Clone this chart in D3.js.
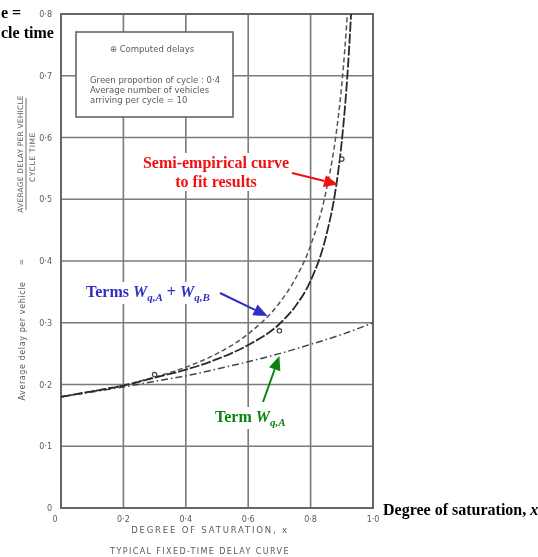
<!DOCTYPE html>
<html>
<head>
<meta charset="utf-8">
<script src="https://cdn.jsdelivr.net/npm/d3@7"></script>
<style>
  body { margin: 0; background: #fff; }
  svg { display: block; }
  .scan text { font-family: "DejaVu Sans", sans-serif; fill: #5a5a5a; }
  .note { font-family: "Liberation Serif", serif; font-weight: bold; font-size: 16px; }
</style>
</head>
<body>
<script>
// values
var xTicks = [0, 0.2, 0.4, 0.6, 0.8, 1.0];
var xTickLabels = ["0", "0·2", "0·4", "0·6", "0·8", "1·0"];
var yTicks = [0, 0.1, 0.2, 0.3, 0.4, 0.5, 0.6, 0.7, 0.8];
var yTickLabels = ["0", "0·1", "0·2", "0·3", "0·4", "0·5", "0·6", "0·7", "0·8"];

var termAX = [0, 0.1, 0.2, 0.3, 0.4, 0.5, 0.6, 0.7, 0.8, 0.9, 1.0];
var termA = [0.180, 0.188, 0.196, 0.205, 0.214, 0.225, 0.237, 0.250, 0.265, 0.281, 0.300];

var sumX = [0, 0.1, 0.2, 0.3, 0.4, 0.5, 0.6, 0.7, 0.75, 0.8, 0.85, 0.88, 0.9, 0.91, 0.92];
var sumAB = [0.180, 0.189, 0.199, 0.212, 0.228, 0.250, 0.282, 0.332, 0.370, 0.425, 0.514, 0.599, 0.686, 0.745, 0.816];

var semiX = [0, 0.1, 0.2, 0.3, 0.4, 0.5, 0.6, 0.7, 0.75, 0.8, 0.85, 0.88, 0.9, 0.92, 0.93];
var semi = [0.180, 0.189, 0.198, 0.211, 0.224, 0.241, 0.264, 0.298, 0.326, 0.368, 0.441, 0.515, 0.594, 0.716, 0.802];

var computedX = [0.3, 0.7, 0.9];
var computed = [0.216, 0.287, 0.565];

var W = 538, H = 557;
var x = d3.scaleLinear().domain([0, 1]).range([61, 373]);
var y = d3.scaleLinear().domain([0, 0.8]).range([508, 14]);

var svg = d3.select("body").append("svg").attr("width", W).attr("height", H);

var defs = svg.append("defs");
defs.append("filter").attr("id", "scanblur")
  .append("feGaussianBlur").attr("stdDeviation", 0.4);
defs.append("clipPath").attr("id", "plotclip")
  .append("rect").attr("x", x(0)).attr("y", y(0.8)).attr("width", x(1) - x(0)).attr("height", y(0) - y(0.8));

var scan = svg.append("g").attr("class", "scan").attr("filter", "url(#scanblur)");

// grid
scan.append("g").selectAll("line").data(xTicks).enter().append("line")
  .attr("x1", function(d){ return x(d); }).attr("x2", function(d){ return x(d); })
  .attr("y1", y(0)).attr("y2", y(0.8))
  .attr("stroke", "#7a7a7a").attr("stroke-width", 1.6);
scan.append("g").selectAll("line").data(yTicks).enter().append("line")
  .attr("x1", x(0)).attr("x2", x(1))
  .attr("y1", function(d){ return y(d); }).attr("y2", function(d){ return y(d); })
  .attr("stroke", "#7a7a7a").attr("stroke-width", 1.6);
scan.append("rect")
  .attr("x", x(0)).attr("y", y(0.8)).attr("width", x(1) - x(0)).attr("height", y(0) - y(0.8))
  .attr("fill", "none").attr("stroke", "#666").attr("stroke-width", 2);

// tick labels
scan.append("g").selectAll("text").data(xTicks).enter().append("text")
  .attr("x", function(d){ return x(d) - (d === 0 ? 6 : 0); })
  .attr("y", y(0) + 14)
  .attr("text-anchor", "middle").attr("font-size", 8)
  .text(function(d, i){ return xTickLabels[i]; });
scan.append("g").selectAll("text").data(yTicks).enter().append("text")
  .attr("x", x(0) - 9).attr("y", function(d){ return y(d) + 3; })
  .attr("text-anchor", "end").attr("font-size", 8)
  .text(function(d, i){ return yTickLabels[i]; });

// legend box (white, covers grid)
var lg = scan.append("g").attr("transform", "translate(76,32)");
lg.append("rect").attr("width", 157).attr("height", 85)
  .attr("fill", "#fff").attr("stroke", "#666").attr("stroke-width", 1.6);
lg.append("text").attr("x", 76).attr("y", 20).attr("text-anchor", "middle").attr("font-size", 8.5)
  .text("⊕  Computed delays");
lg.append("text").attr("x", 14).attr("y", 51).attr("font-size", 8.5)
  .text("Green proportion of cycle : 0·4");
lg.append("text").attr("x", 14).attr("y", 61).attr("font-size", 8.5)
  .text("Average number of vehicles");
lg.append("text").attr("x", 14).attr("y", 71).attr("font-size", 8.5)
  .text("arriving per cycle = 10");

// curves
var curves = scan.append("g").attr("clip-path", "url(#plotclip)");
var line = d3.line().curve(d3.curveMonotoneX)
  .x(function(d){ return x(d[0]); }).y(function(d){ return y(d[1]); });

curves.append("path").datum(d3.zip(termAX, termA))
  .attr("d", line).attr("fill", "none")
  .attr("stroke", "#444").attr("stroke-width", 1.5).attr("stroke-dasharray", "7,3,1.5,3");
curves.append("path").datum(d3.zip(sumX, sumAB))
  .attr("d", line).attr("fill", "none")
  .attr("stroke", "#555").attr("stroke-width", 1.5).attr("stroke-dasharray", "5,3");
curves.append("path").datum(d3.zip(semiX, semi))
  .attr("d", line).attr("fill", "none")
  .attr("stroke", "#2a2a2a").attr("stroke-width", 1.8).attr("stroke-dasharray", "10,2");

curves.append("g").selectAll("circle").data(d3.zip(computedX, computed)).enter().append("circle")
  .attr("cx", function(d){ return x(d[0]); }).attr("cy", function(d){ return y(d[1]); })
  .attr("r", 2.2).attr("fill", "#fff").attr("stroke", "#444").attr("stroke-width", 1.2);

// y-axis title (rotated)
var yt = scan.append("g").attr("font-size", 7.5);
yt.append("text").attr("transform", "translate(23,154) rotate(-90)").attr("text-anchor", "middle")
  .attr("letter-spacing", 0.2).text("AVERAGE DELAY PER VEHICLE");
yt.append("line").attr("x1", 26).attr("x2", 26).attr("y1", 98).attr("y2", 210)
  .attr("stroke", "#6a6a6a").attr("stroke-width", 1);
yt.append("text").attr("transform", "translate(35,157) rotate(-90)").attr("text-anchor", "middle")
  .attr("letter-spacing", 0.6).text("CYCLE TIME");
yt.append("text").attr("transform", "translate(24,262) rotate(-90)").attr("text-anchor", "middle")
  .text("=");
yt.append("text").attr("transform", "translate(25,341) rotate(-90)").attr("text-anchor", "middle")
  .attr("font-size", 8).attr("letter-spacing", 0.6).text("Average delay per vehicle");

// x-axis title and caption
scan.append("text").attr("x", 210).attr("y", 533).attr("text-anchor", "middle")
  .attr("font-size", 8.5).attr("letter-spacing", 1.8).text("DEGREE OF SATURATION, x");
scan.append("text").attr("x", 200).attr("y", 554).attr("text-anchor", "middle")
  .attr("font-size", 8).attr("letter-spacing", 1.4).text("TYPICAL FIXED-TIME DELAY CURVE");

// annotations on top
function arrow(color, x1, y1, x2, y2) {
  var a = Math.atan2(y2 - y1, x2 - x1), len = 14, w = 6;
  var bx = x2 - len * Math.cos(a), by = y2 - len * Math.sin(a);
  svg.append("line").attr("x1", x1).attr("y1", y1).attr("x2", bx).attr("y2", by)
    .attr("stroke", color).attr("stroke-width", 2);
  svg.append("path")
    .attr("d", "M" + x2 + "," + y2 +
      "L" + (bx + w * Math.sin(a)) + "," + (by - w * Math.cos(a)) +
      "L" + (bx - w * Math.sin(a)) + "," + (by + w * Math.cos(a)) + "Z")
    .attr("fill", color);
}

// the pasted labels sit on white patches that hide the grid
var notes = svg.append("g");
function whiteBehind(sel, pad) {
  var b = sel.node().getBBox();
  notes.insert("rect", ":first-child")
    .attr("x", b.x - pad).attr("y", b.y - 1).attr("width", b.width + 2 * pad).attr("height", b.height + 2)
    .attr("fill", "#fff");
}

var red = "#f01010", blue = "#2f2fc4", green = "#0b840b";

var r1 = notes.append("text").attr("class", "note").attr("x", 216).attr("y", 168).attr("text-anchor", "middle")
  .attr("fill", red).text("Semi-empirical curve");
var r2 = notes.append("text").attr("class", "note").attr("x", 216).attr("y", 187).attr("text-anchor", "middle")
  .attr("fill", red).text("to fit results");
whiteBehind(r1, 4);
whiteBehind(r2, 4);
arrow(red, 292, 173, x(0.888), y(0.524));

var tb = notes.append("text").attr("class", "note").attr("x", 86).attr("y", 297).attr("fill", blue);
tb.append("tspan").text("Terms ");
tb.append("tspan").attr("font-style", "italic").text("W");
tb.append("tspan").attr("font-style", "italic").attr("font-size", 11).attr("dy", 4).text("q,A");
tb.append("tspan").attr("dy", -4).text(" + ");
tb.append("tspan").attr("font-style", "italic").text("W");
tb.append("tspan").attr("font-style", "italic").attr("font-size", 11).attr("dy", 4).text("q,B");
whiteBehind(tb, 4);
arrow(blue, 220, 293, x(0.662), y(0.311));

var tg = notes.append("text").attr("class", "note").attr("x", 215).attr("y", 422).attr("fill", green);
tg.append("tspan").text("Term ");
tg.append("tspan").attr("font-style", "italic").text("W");
tg.append("tspan").attr("font-style", "italic").attr("font-size", 11).attr("dy", 4).text("q,A");
whiteBehind(tg, 4);
arrow(green, 263, 402, x(0.70), y(0.246));

// fragments of a label at top left (as visible), and x label at right
svg.append("text").attr("class", "note").attr("x", 1).attr("y", 18)
  .attr("fill", "#000").text("e =");
svg.append("text").attr("class", "note").attr("x", 1).attr("y", 38)
  .attr("fill", "#000").text("cle time");

var xl = svg.append("text").attr("class", "note").attr("x", 383).attr("y", 515).attr("fill", "#000");
xl.append("tspan").text("Degree of saturation, ");
xl.append("tspan").attr("font-style", "italic").text("x");
</script>
</body>
</html>
